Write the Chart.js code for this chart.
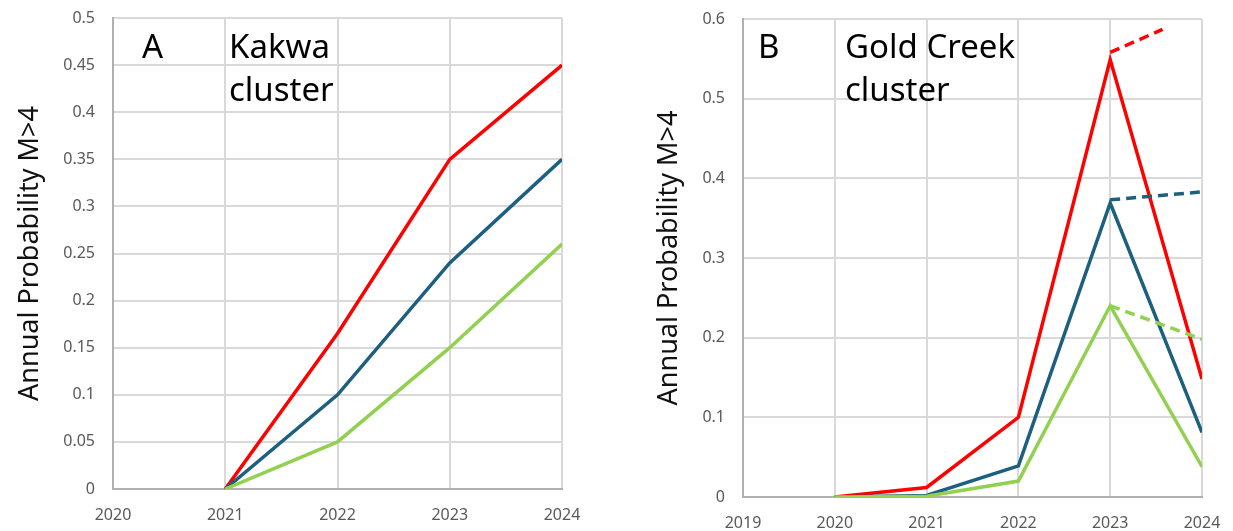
<!DOCTYPE html>
<html>
<head>
<meta charset="utf-8">
<script src="https://cdn.jsdelivr.net/npm/chart.js@4.4.1/dist/chart.umd.min.js"></script>
<style>
  body { margin: 0; background: #fff; }
  .box { position: absolute; top: 0; height: 531px; }
  #boxA { left: 0; width: 600px; }
  #boxB { left: 620px; width: 613px; }
</style>
</head>
<body>
<div class="box" id="boxA"><canvas id="chartA"></canvas></div>
<div class="box" id="boxB"><canvas id="chartB"></canvas></div>
<script>
// panel A - Kakwa cluster
const kakwaYears = [2020, 2021, 2022, 2023, 2024];
const kakwaUpper = [null, 0, 0.165, 0.35, 0.45];
const kakwaMid   = [null, 0, 0.10, 0.24, 0.35];
const kakwaLower = [null, 0, 0.05, 0.15, 0.26];
const kakwaTicks = [0, 0.05, 0.1, 0.15, 0.2, 0.25, 0.3, 0.35, 0.4, 0.45, 0.5];

// panel B - Gold Creek cluster
const gcYears = [2019, 2020, 2021, 2022, 2023, 2024];
const gcUpper = [null, 0, 0.012, 0.10, 0.549, 0.148];
const gcMid   = [null, 0, 0.002, 0.039, 0.369, 0.081];
const gcLower = [null, 0, 0.001, 0.02, 0.24, 0.038];
// dashed continuations from 2023
const gcUpperDashX = [2023, 2023.57];
const gcUpperDash  = [0.558, 0.587];
const gcMidDashX   = [2023, 2024];
const gcMidDash    = [0.373, 0.383];
const gcLowerDashX = [2023, 2024];
const gcLowerDash  = [0.24, 0.198];
const gcTicks = [0, 0.1, 0.2, 0.3, 0.4, 0.5, 0.6];

const RED = "#ff0000";
const BLUE = "#1c5f7f";
const GREEN = "#92d050";
const FONT = "'Noto Sans', 'Open Sans', sans-serif";

function pts(xs, ys) {
  return xs.map((x, i) => ({ x: x, y: ys[i] }));
}

function line(xs, ys, color, dashed) {
  return {
    data: pts(xs, ys),
    borderColor: color,
    backgroundColor: color,
    borderWidth: 3.5,
    borderDash: dashed ? [10, 6] : [],
    pointRadius: 0,
    fill: false,
    tension: 0,
  };
}

// draws the panel letter and cluster name
function notes(items) {
  return {
    id: "notes",
    afterDraw(chart) {
      const c = chart.ctx;
      const a = chart.chartArea;
      c.save();
      c.fillStyle = "#000";
      c.font = "33px " + FONT;
      c.textBaseline = "alphabetic";
      items.forEach(t => c.fillText(t[0], a.left + t[1], t[2]));
      c.restore();
    },
  };
}

function opts(p) {
  return {
    responsive: true,
    maintainAspectRatio: false,
    animation: false,
    clip: { left: 0, top: 0, right: 0, bottom: 0 },
    layout: { padding: { top: p.padTop, right: p.padRight, bottom: 0, left: p.padLeft } },
    plugins: { legend: { display: false }, tooltip: { enabled: false } },
    scales: {
      x: {
        type: "linear",
        min: p.xmin,
        max: p.xmax,
        afterBuildTicks: s => { s.ticks = []; for (let v = p.xmin; v <= p.xmax; v++) s.ticks.push({ value: v }); },
        afterFit: s => { s.height = p.xHeight; s.paddingLeft = 0; s.paddingRight = 0; },
        ticks: { color: "#595959", font: { size: 16, family: FONT }, padding: 17, maxRotation: 0,
                 callback: v => String(v) },
        grid: { color: "#d9d9d9", lineWidth: 2, drawTicks: false },
        border: { color: "#b0b0b0", width: 2 },
      },
      y: {
        min: 0,
        max: p.ymax,
        afterBuildTicks: s => { s.ticks = p.yTicks.map(v => ({ value: v })); },
        afterFit: s => { s.width = p.yWidth; s.paddingTop = 0; s.paddingBottom = 0; },
        ticks: { color: "#595959", font: { size: 16, family: FONT }, padding: 18,
                 callback: v => String(+v.toFixed(2)) },
        grid: { color: "#d9d9d9", lineWidth: 2, drawTicks: false },
        border: { color: "#b0b0b0", width: 2 },
        title: { display: true, text: "Annual Probability M>4", color: "#111",
                 font: { size: 27, family: FONT }, padding: 0 },
      },
    },
  };
}

new Chart(document.getElementById("chartA"), {
  type: "line",
  data: {
    datasets: [
      line(kakwaYears, kakwaLower, GREEN),
      line(kakwaYears, kakwaMid, BLUE),
      line(kakwaYears, kakwaUpper, RED),
    ],
  },
  options: opts({ xmin: 2020, xmax: 2024, ymax: 0.5, yTicks: kakwaTicks, padTop: 18, padLeft: 14,
                  yWidth: 99, xHeight: 42, padRight: 38 }),
  plugins: [notes([["A", 29, 58], ["Kakwa", 116, 58], ["cluster", 116, 101]])],
});

new Chart(document.getElementById("chartB"), {
  type: "line",
  data: {
    datasets: [
      line(gcYears, gcLower, GREEN),
      line(gcLowerDashX, gcLowerDash, GREEN, true),
      line(gcYears, gcMid, BLUE),
      line(gcMidDashX, gcMidDash, BLUE, true),
      line(gcYears, gcUpper, RED),
      line(gcUpperDashX, gcUpperDash, RED, true),
    ],
  },
  options: opts({ xmin: 2019, xmax: 2024, ymax: 0.6, yTicks: gcTicks, padTop: 19, padLeft: 33,
                  yWidth: 90, xHeight: 34, padRight: 31 }),
  plugins: [notes([["B", 15, 58], ["Gold Creek", 102, 58], ["cluster", 102, 101]])],
});
</script>
</body>
</html>
